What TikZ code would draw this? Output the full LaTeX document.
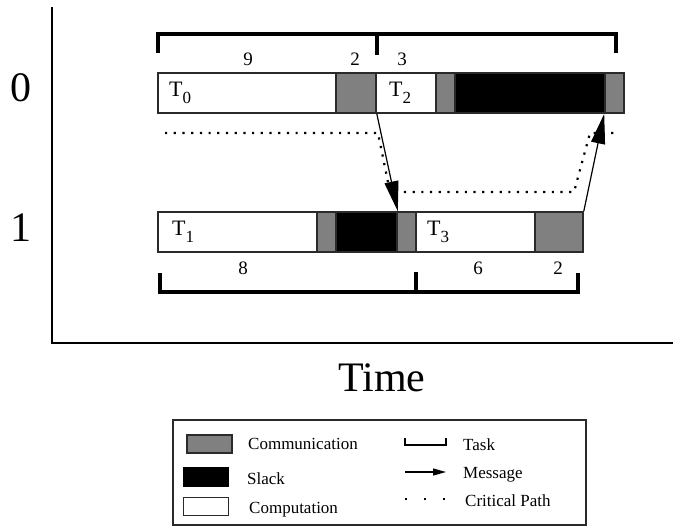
\documentclass[tikz,border=0pt]{standalone}
\usepackage{fontspec}
\setmainfont{Liberation Serif}
\usetikzlibrary{arrows.meta}
\definecolor{commgray}{HTML}{808080}
\definecolor{edgegray}{HTML}{2A2A2A}
\tikzset{
  seg/.style={draw=edgegray, line width=1.6pt, rectangle, inner sep=0pt, minimum height=40pt},
  comp/.style={seg, fill=white},
  comm/.style={seg, fill=commgray},
  slack/.style={seg, fill=black},
  bracket/.style={line width=4.5pt, line cap=butt, line join=miter},
  critical/.style={line width=2.2pt, dash pattern=on 2.2pt off 6.5pt, line cap=butt},
  message/.style={line width=1.2pt, -{Triangle[length=30pt, width=14pt]}},
  num/.style={font=\fontsize{19}{21}\selectfont, inner sep=0pt},
  tlabel/.style={font=\fontsize{22}{24}\selectfont, inner sep=0pt, anchor=west},
  big/.style={font=\fontsize{42}{46}\selectfont, inner sep=0pt},
  legtext/.style={font=\fontsize{17}{20}\selectfont, inner sep=0pt, anchor=west},
  swatch/.style={draw=edgegray, line width=1.6pt, rectangle, inner sep=0pt, minimum width=45pt, minimum height=18pt},
}
\newcommand{\tsub}[1]{T\raisebox{-7pt}{\fontsize{17}{19}\selectfont #1}}
\begin{document}
\begin{tikzpicture}[x=1pt, y=-1pt]
\useasboundingbox (0,0) rectangle (677,529);

% axes
\draw[line width=2.5pt] (52,7) -- (52,343) -- (673,343);
\node[big] (p0) at (21,88) {0};
\node[big] (p1) at (21,228) {1};
\node[big] (time) at (382,378) {Time};

% row 0
\node[comp,  minimum width=178pt] (t0)  at (247,93) {};
\node[comm,  minimum width=40pt]  (c0)  at (356,93) {};
\node[comp,  minimum width=60pt]  (t2)  at (406,93) {};
\node[comm,  minimum width=19pt]  (c2a) at (445.5,93) {};
\node[slack, minimum width=150pt] (s2)  at (530,93) {};
\node[comm,  minimum width=19pt]  (c2b) at (614.5,93) {};
\node[tlabel] (lt0) at (169,93) {\tsub{0}};
\node[tlabel] (lt2) at (389,93) {\tsub{2}};

% row 1
\node[comp,  minimum width=159pt] (t1)  at (237.5,232) {};
\node[comm,  minimum width=19pt]  (c1a) at (326.5,232) {};
\node[slack, minimum width=61pt]  (s1)  at (366.5,232) {};
\node[comm,  minimum width=19pt]  (c1b) at (406.5,232) {};
\node[comp,  minimum width=119pt] (t3)  at (475.5,232) {};
\node[comm,  minimum width=48pt]  (c3)  at (559,232) {};
\node[tlabel] (lt1) at (172,232) {\tsub{1}};
\node[tlabel] (lt3) at (427,232) {\tsub{3}};

% task brackets
\draw[bracket] (158,53) -- (158,34) -- (616,34) -- (616,53);
\draw[bracket] (377,34) -- (377,55);
\draw[bracket] (160,273) -- (160,292) -- (578,292) -- (578,273);
\draw[bracket] (416,292) -- (416,272);

% numbers
\node[num] (n9) at (248,59) {9};
\node[num] (n2a) at (355,59) {2};
\node[num] (n3) at (402,59) {3};
\node[num] (n8) at (243,268) {8};
\node[num] (n6) at (478,268) {6};
\node[num] (n2b) at (558,268) {2};

% critical path
\coordinate (cp0) at (165,133);
\coordinate (cp1) at (378,133);
\coordinate (cp2) at (390,192);
\coordinate (cp3) at (574,192);
\coordinate (cp4) at (590,133);
\coordinate (cp5) at (617,133);
\draw[critical] (cp0) -- (cp1) -- (cp2) -- (cp3) -- (cp4) -- (cp5);

% messages
\draw[message] (c0.south east) -- (s1.north east);
\draw[message] (c3.north east) -- (c2b.south west);

% legend
\node[draw=edgegray, line width=1.6pt, rectangle, inner sep=0pt, minimum width=413pt, minimum height=105pt] (legend) at (379.5,472.5) {};
\node[swatch, fill=commgray] (lg1) at (209.5,444) {};
\node[swatch, fill=black, draw=black] (lg2) at (206,477) {};
\node[swatch, fill=white] (lg3) at (206,506.5) {};
\node[legtext] (lt1t) at (248,444) {Communication};
\node[legtext] (lt2t) at (247,479) {Slack};
\node[legtext] (lt3t) at (249,510) {Computation};
\draw[line width=1.5pt] (405,438) -- (405,445) -- (446,445) -- (446,438);
\coordinate (la0) at (405,472);
\coordinate (la1) at (446,472);
\draw[line width=1.2pt, -{Triangle[length=13pt, width=7pt]}] (la0) -- (la1);
\coordinate (ld0) at (405,499);
\coordinate (ld1) at (448,499);
\draw[line width=2pt, dash pattern=on 2pt off 17pt] (ld0) -- (ld1);
\node[legtext] (lt4t) at (463,445) {Task};
\node[legtext] (lt5t) at (463,475) {Message};
\node[legtext] (lt6t) at (465,501) {Critical Path};
\end{tikzpicture}
\end{document}
